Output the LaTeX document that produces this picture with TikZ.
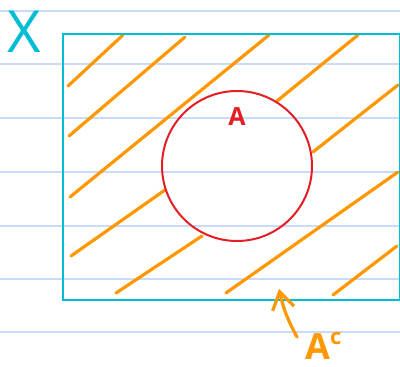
\documentclass[tikz,border=0pt]{standalone}
\usepackage{fontspec}
\setsansfont{Open Sans}
\usetikzlibrary{arrows.meta}
\definecolor{setcyan}{RGB}{0,188,212}
\definecolor{hatchorange}{RGB}{255,152,0}
\definecolor{setred}{RGB}{229,30,37}
\definecolor{rulblue}{RGB}{200,220,250}
\begin{document}
\begin{tikzpicture}[x=1pt,y=-1pt,>={Straight Barb[length=17pt,width=22pt]},
  rule/.style={rulblue,line width=2pt},
  hatch/.style={hatchorange,line width=3.2pt,line cap=round}]
  \useasboundingbox (0,0) rectangle (400,367);
  % Ruled paper
  \foreach \ry in {11,64,118,172,226,279,332}
    \draw[rule] (0,\ry)--(400,\ry);
  % Hatching of the complement
  \foreach \ax/\ay/\bx/\by in {68/86/123/35,69/136/185/37,70/197/269/35,277/101/358/35,313/152/398/85,
    71/256/165/190,116/293/202/236,226/293/398/172,333/295/397/246}
    \draw[hatch] (\ax,\ay)--(\bx,\by);
  % Universe and set A
  \node[draw=setcyan,line width=2pt,minimum width=337pt,minimum height=266pt,anchor=north west] (univ) at (62,33) {};
  \node[draw=setred,line width=2pt,circle,minimum size=150pt] (setA) at (237,166) {};
  % Labels
  \node[text=setcyan,font=\sffamily\fontsize{58}{58}\selectfont,inner sep=0pt] (lblX) at (24,32) {X};
  \node[text=setred,font=\sffamily\bfseries\fontsize{25}{25}\selectfont,inner sep=0pt] (lblA) at (237,117) {A};
  \node[text=hatchorange,font=\sffamily\bfseries\fontsize{36}{36}\selectfont,inner sep=0pt,anchor=north west] (lblAc) at (305,332)
    {A\raisebox{0.42em}{\fontsize{22}{22}\selectfont c}};
  % Arrow to the complement
  \coordinate (tip) at (279,289);
  \draw[hatch,->] ([xshift=-8pt,yshift=-5pt]lblAc.north west) to[bend left=8] (tip);
\end{tikzpicture}
\end{document}
